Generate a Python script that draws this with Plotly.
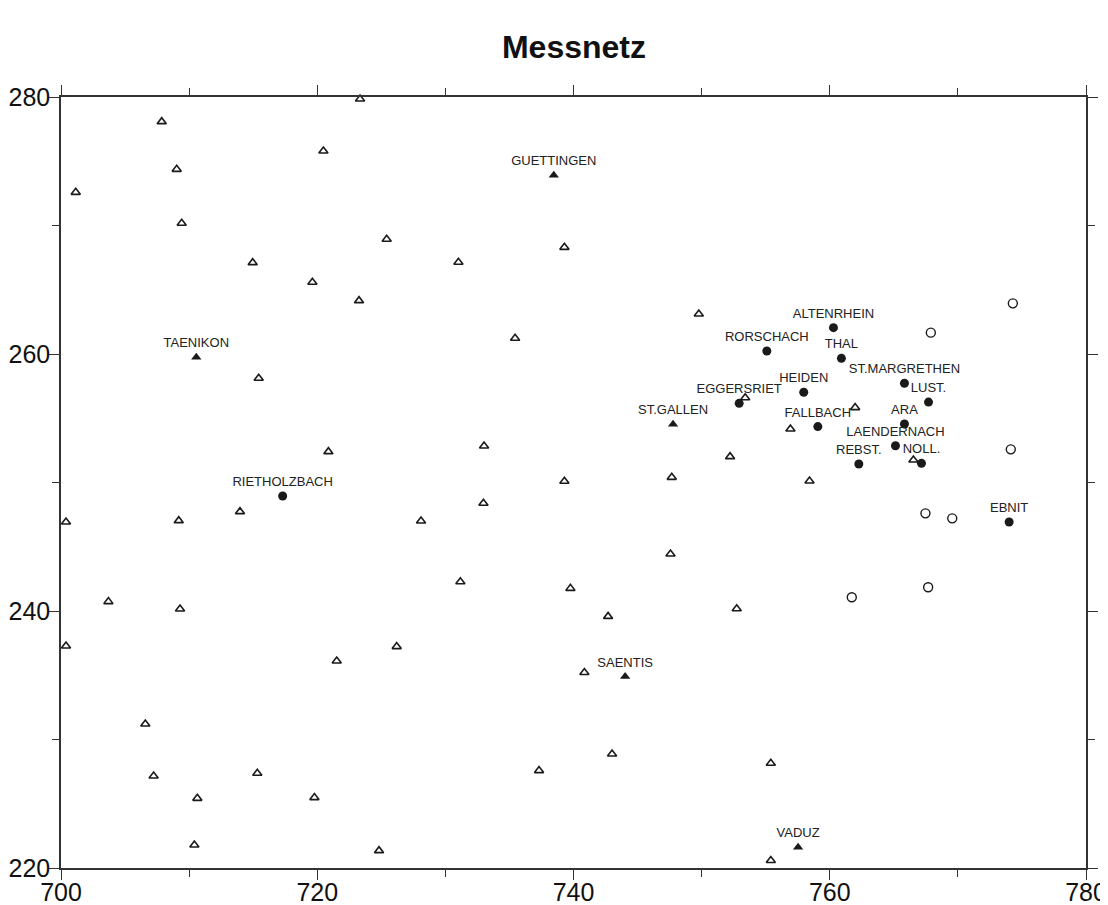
import plotly.graph_objects as go

# Open triangles (unnamed stations)
open_tri_x = [723.34, 707.86, 720.48, 709.03, 701.15, 709.42, 725.42, 714.96, 719.62, 723.26,
              715.43, 720.87, 739.29, 731.02, 749.78, 735.44, 733.02, 752.22, 753.40, 761.98,
              756.93, 766.53, 758.42, 747.67, 739.29, 713.97, 700.39, 709.19, 703.70, 709.29,
              700.39, 726.20, 721.52, 706.58, 707.23, 715.32, 710.64, 719.78, 710.41, 724.82,
              732.97, 728.10, 747.57, 731.17, 739.76, 742.70, 752.74, 740.85, 743.01, 737.31,
              729.59, 755.40, 755.40]
open_tri_y = [279.84, 278.08, 275.80, 274.37, 272.58, 270.17, 268.93, 267.11, 265.58, 264.15,
              258.11, 252.40, 268.30, 267.14, 263.11, 261.22, 252.84, 252.01, 256.60, 255.83,
              254.16, 251.75, 250.12, 250.40, 250.10, 247.73, 246.93, 247.03, 240.73, 240.16,
              237.28, 237.23, 236.11, 231.21, 227.16, 227.37, 225.42, 225.48, 221.79, 221.35,
              248.38, 247.00, 244.44, 242.28, 241.76, 239.58, 240.17, 235.21, 228.87, 227.58,
              219.98, 228.15, 220.58]

# Filled triangles (named stations)
ftri_names = ["GUETTINGEN", "TAENIKON", "ST.GALLEN", "SAENTIS", "VADUZ"]
ftri_x = [738.46, 710.56, 747.77, 744.03, 757.53]
ftri_y = [273.91, 259.74, 254.53, 234.90, 221.61]

# Filled circles (named stations)
fcir_names = ["ALTENRHEIN", "RORSCHACH", "THAL", "ST.MARGRETHEN", "HEIDEN", "LUST.",
              "EGGERSRIET", "FALLBACH", "ARA", "LAENDERNACH", "REBST.", "NOLL.",
              "RIETHOLZBACH", "EBNIT"]
fcir_x = [760.29, 755.09, 760.91, 765.83, 757.97, 767.71,
          752.93, 759.07, 765.83, 765.13, 762.27, 767.16,
          717.30, 774.00]
fcir_y = [262.05, 260.23, 259.66, 257.72, 257.02, 256.26,
          256.16, 254.35, 254.55, 252.86, 251.44, 251.49,
          248.95, 246.93]

# Open circles
ocir_x = [774.29, 767.89, 774.13, 767.47, 769.56, 767.68, 761.72]
ocir_y = [263.94, 261.66, 252.58, 247.60, 247.21, 241.85, 241.07]

x_ticks = [700, 720, 740, 760, 780]
y_ticks = [220, 240, 260, 280]

INK = "#1a1a1a"
label_font = dict(family="Liberation Sans, Arial, sans-serif", size=13, color="#222")

fig = go.Figure()
fig.add_trace(go.Scatter(
    x=open_tri_x, y=open_tri_y, mode="markers",
    marker=dict(symbol="triangle-up-open", size=8, color=INK, line=dict(width=1.6, color=INK)),
    hoverinfo="skip", cliponaxis=False))
fig.add_trace(go.Scatter(
    x=ocir_x, y=ocir_y, mode="markers",
    marker=dict(symbol="circle-open", size=9, color=INK, line=dict(width=1.4, color=INK)),
    hoverinfo="skip", cliponaxis=False))
fig.add_trace(go.Scatter(
    x=ftri_x, y=ftri_y, mode="markers+text", text=ftri_names, textposition="top center",
    textfont=label_font,
    marker=dict(symbol="triangle-up", size=9, color=INK),
    hoverinfo="skip", cliponaxis=False))
fig.add_trace(go.Scatter(
    x=fcir_x, y=fcir_y, mode="markers+text", text=fcir_names, textposition="top center",
    textfont=label_font,
    marker=dict(symbol="circle", size=9, color=INK),
    hoverinfo="skip", cliponaxis=False))

axis_common = dict(
    showgrid=False, zeroline=False, showline=True, linecolor="#333", linewidth=1.5,
    mirror="ticks", ticks="outside", ticklen=10, tickwidth=1.3, tickcolor="#333",
    automargin=False,
    tickfont=dict(family="Liberation Sans, Arial, sans-serif", size=25, color="#111"),
    minor=dict(ticks="outside", ticklen=7, tickwidth=1.3, tickcolor="#333", dtick=10),
)

fig.update_xaxes(range=[700, 780], tickmode="array", tickvals=x_ticks,
                 ticktext=[str(v) for v in x_ticks], ticklabelstandoff=-9, **axis_common)
fig.update_yaxes(range=[220, 280], tickmode="array", tickvals=y_ticks,
                 ticktext=[str(v) for v in y_ticks], ticklabelstandoff=-6, **axis_common)

# the page body adds ~8px offset, so the figure is slightly smaller than the window
fig.update_layout(
    width=1100, height=897,
    margin=dict(l=53, r=22, t=89, b=37, autoexpand=False),
    paper_bgcolor="white", plot_bgcolor="white",
    showlegend=False,
    title=dict(text="<b>Messnetz</b>", x=0.5145, xanchor="center", y=0.9565, yanchor="middle",
               font=dict(family="Liberation Sans, Arial, sans-serif", size=32, color="#111")),
)

fig.write_html("out.html")
